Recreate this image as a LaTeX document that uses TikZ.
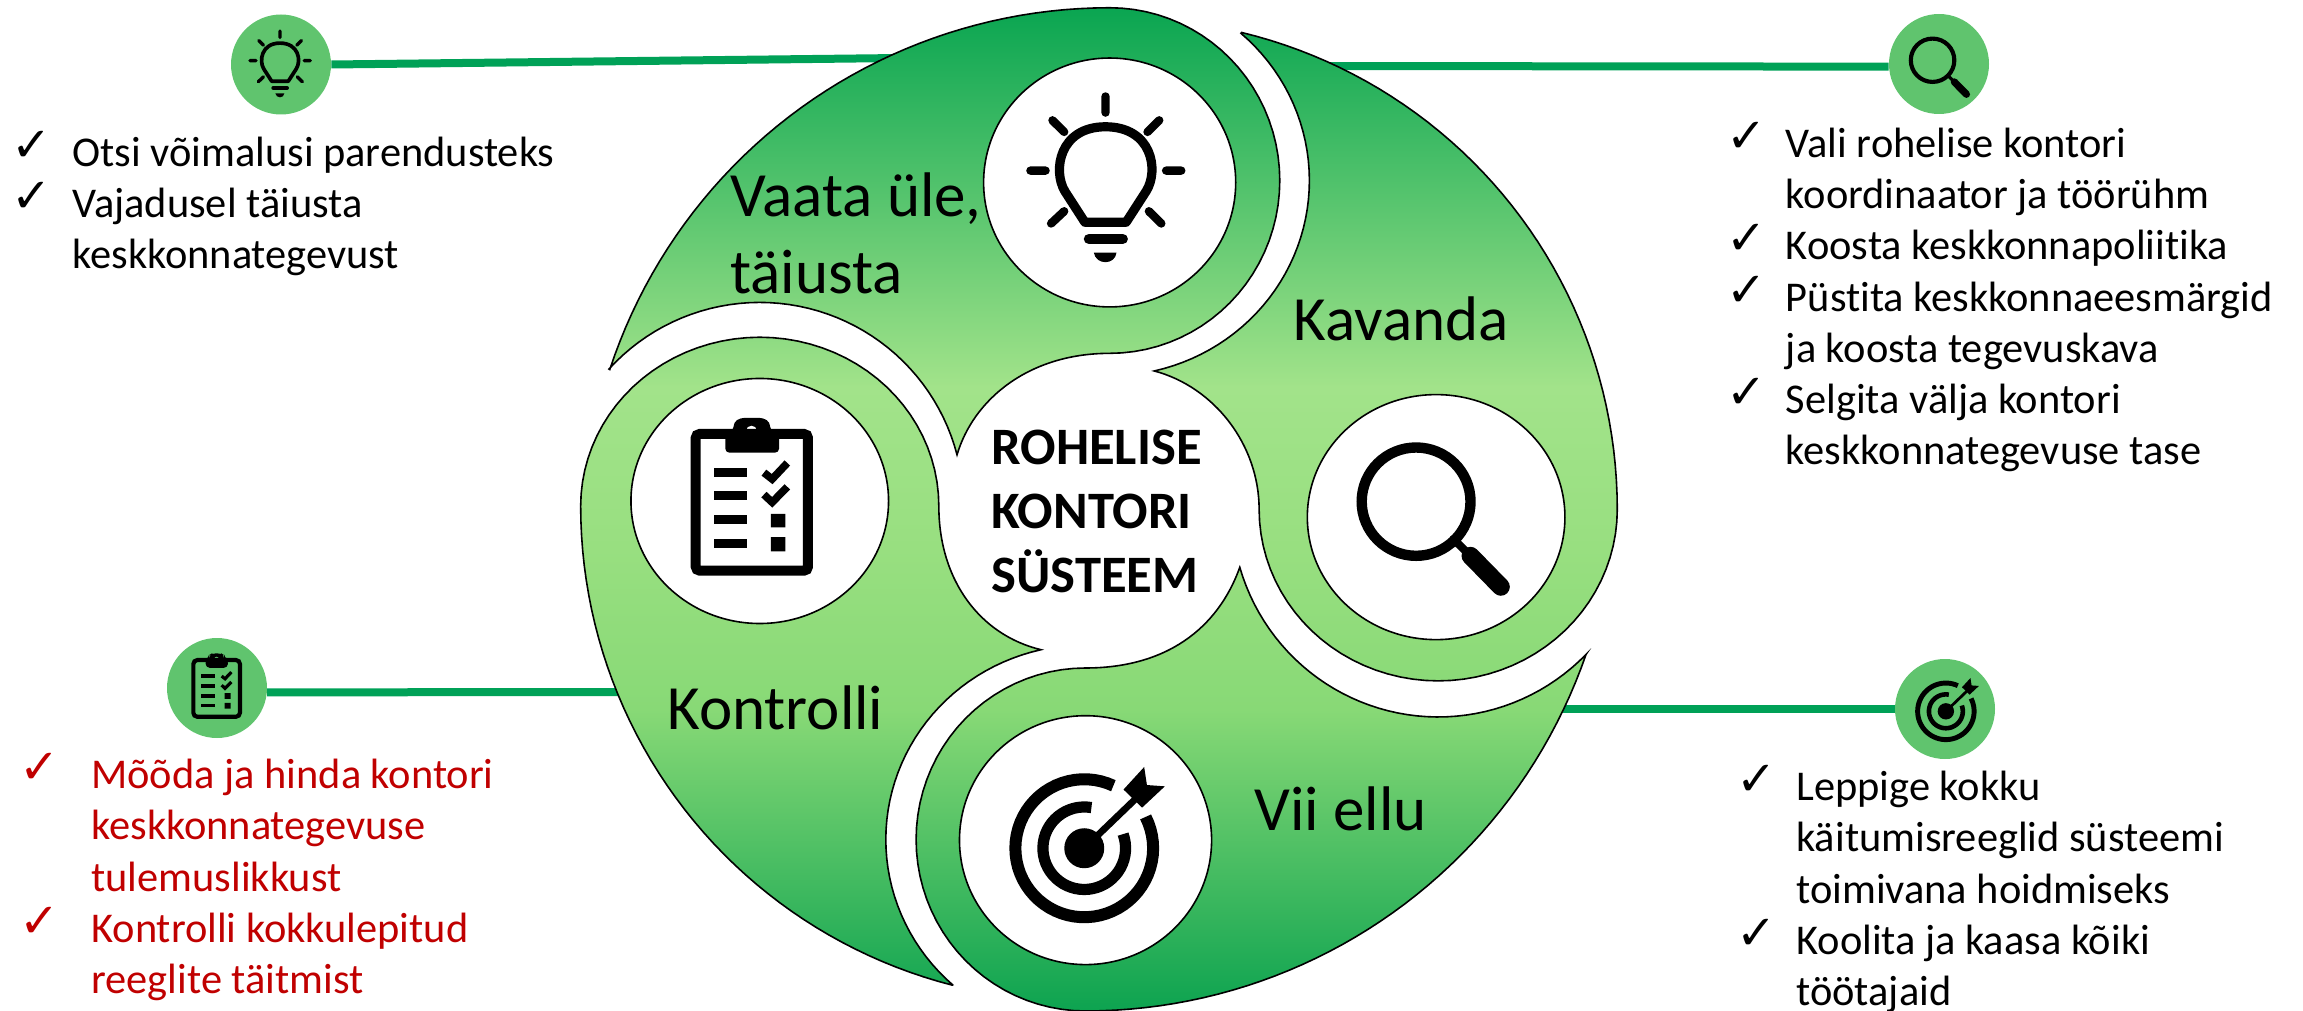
\documentclass[tikz,border=0pt]{standalone}
\usepackage{fontspec}
\setmainfont{Carlito}[Ligatures=CommonOff]
\newfontfamily\chkfont{DejaVu Sans}
\definecolor{gdark}{HTML}{07A450}
\definecolor{glight}{HTML}{A2E38A}
\definecolor{gmid}{HTML}{98DF80}
\definecolor{glow}{HTML}{88D976}
\definecolor{gbot}{HTML}{0DA350}
\definecolor{linkgreen}{HTML}{00A157}
\definecolor{badge}{HTML}{60C46E}
\definecolor{redtext}{HTML}{C00000}
\tikzset{
  zoomframe/.style={x=0.344388pt,y=-0.322385pt},
  badgenode/.style={circle,fill=badge,minimum size=50pt,inner sep=0pt},
  link/.style={draw=linkgreen,line width=4pt},
  hub/.style={draw=black,fill=white,line width=0.8pt},
  blade/.style={draw=black,line width=0.8pt,line join=miter},
  chkmark/.style={anchor=base west,inner sep=0pt,font=\chkfont\fontsize{24}{24}\selectfont},
  itemtext/.style={anchor=north west,inner sep=0pt,align=left,font=\fontsize{21.2}{25.7}\selectfont},
  bladelabel/.style={anchor=north west,inner sep=0pt,align=left,font=\fontsize{31.5}{38.5}\selectfont},
  centerlabel/.style={anchor=north west,inner sep=0pt,align=left,font=\bfseries\fontsize{26.3}{32}\selectfont},
}
\newcommand{\st}{\rule{0pt}{16pt}}
\newcommand{\stb}{\rule{0pt}{22pt}}
\newcommand{\listitem}[6]{%
  \node[chkmark,text=#5] (#1c) at (#2-3,#3-4.5) {✓};
  \node[itemtext,text=#5] (#1) at (#4,#3-32) {\st #6};}
% elliptical piece: cx, cy, rx, ry, from angle, to angle (angles run clockwise on the page)
\def\piece#1#2#3#4#5#6{plot[domain=#5:#6,samples=45] ({#1+#3*cos(\noexpand\x)},{#2+#4*sin(\noexpand\x)})}
\edef\bladeA{\piece{798}{280}{247}{268}{90}{-90} -- \piece{798}{828}{764}{816}{-90}{-161.8} -- \piece{290}{785}{296}{316}{-137.7}{-14.6} .. controls (600,620) and (680,548) .. (798,548) -- cycle}
\edef\bladeB{\piece{1275}{790}{260}{266}{180}{0} -- \piece{822}{790}{713}{761}{0}{-76.4} -- \piece{798}{280}{290}{303}{-48.9}{77.1} .. controls (950,600) and (1015,690) .. (1015,790) -- cycle}
\edef\bladeC{\piece{763}{1302}{246}{266}{-90}{-270} -- \piece{763}{746}{769}{822}{90}{19.1} -- \piece{1275}{790}{300}{322}{44.3}{163.8} .. controls (955,975) and (880,1036) .. (763,1036) -- cycle}
\edef\bladeD{\piece{290}{785}{260}{262}{0}{-180} -- \piece{748}{785}{718}{767}{180}{104.4} -- \piece{763}{1302}{290}{302}{131.7}{257.1} .. controls (610,985) and (550,900) .. (550,785) -- cycle}
\newcommand{\gradfill}[1]{%
  \begin{scope}
    \clip #1;
    \shade[top color=gdark,bottom color=glight] (0,0) rectangle (1568,601);
    \shade[top color=glight,bottom color=gmid] (0,600) rectangle (1568,851);
    \shade[top color=gmid,bottom color=glow] (0,850) rectangle (1568,1101);
    \shade[top color=glow,bottom color=gbot] (0,1100) rectangle (1568,1568);
  \end{scope}
  \draw[blade] #1;}
\newcommand{\bulbicon}[3]{%
  \begin{scope}[shift={(#1,#2)},zoomframe,scale=#3,shift={(-792,-278)},line cap=round,line join=round]
    \draw[line width=#3*4.2pt] (792,150)--(792,175) (715,187)--(732,205) (870,187)--(853,205)
      (683,265)--(705,265) (880,265)--(902,265) (713,347)--(732,328) (873,347)--(855,328);
    \draw[line width=#3*4.6pt] (762,345) -- (733,297) .. controls (715,265) and (725,197) .. (792,197)
      .. controls (860,197) and (870,265) .. (851,297) -- (822,345) -- cycle;
    \draw[line width=#3*5.2pt] (768,371)--(817,371);
    \fill (775,392)--(808,392) .. controls (806,412) and (778,412) .. cycle;
  \end{scope}}
\newcommand{\clipicon}[3]{%
  \begin{scope}[shift={(#1,#2)},zoomframe,scale=#3,shift={(-278,-770)}]
    \draw[line width=#3*5pt,rounded corners=2pt] (197,673) rectangle (360,885);
    \fill[even odd rule,rounded corners=2pt] (240,702)--(240,668)--(252,668)--(252,655)--(262,648)--(295,648)--(305,655)--(305,668)--(318,668)--(318,702)--cycle (278,668) circle [radius=8];
    \draw[line width=#3*4.6pt] (224,733)--(272,733) (224,769)--(272,769) (224,806)--(272,806) (224,843)--(272,843);
    \draw[line width=#3*3.8pt] (296,733)--(308,743)--(330,718) (296,767)--(308,779)--(330,755);
    \fill (306,797) rectangle (327,818) (306,833) rectangle (327,855);
  \end{scope}}
\newcommand{\lensicon}[3]{%
  \begin{scope}[shift={(#1,#2)},zoomframe,scale=#3,shift={(-1270,-808)},line cap=round]
    \draw[line width=#3*5.2pt] (1243,778) ellipse [x radius=79,y radius=84];
    \draw[line width=#3*4pt] (1297,836)--(1322,862);
    \draw[line width=#3*9pt] (1322,862)--(1366,910);
  \end{scope}}
\newcommand{\targeticon}[3]{%
  \begin{scope}[shift={(#1,#2)},zoomframe,scale=#3,shift={(-765,-1311)}]
    \draw[line width=#3*6pt] plot[domain=-27:295,samples=60] ({761+100*cos(\x)},{1316+107*sin(\x)});
    \draw[line width=#3*5.6pt] plot[domain=-20:280,samples=50] ({761+60*cos(\x)},{1316+64*sin(\x)});
    \fill (761,1316) ellipse [x radius=29,y radius=31];
    \draw[line width=#3*3.4pt] (761,1316)--(835,1240);
    \fill (848,1190)--(818,1225)--(845,1253)--(878,1220)--(852,1218)--cycle;
  \end{scope}}
\begin{document}
\begin{tikzpicture}[x=0.5pt,y=-0.5pt]
\useasboundingbox (0,0) rectangle (2303,1011);
\node[badgenode] (ideaBadge) at (281,64.5) {};
\node[badgenode] (planBadge) at (1939,64) {};
\node[badgenode] (checkBadge) at (217,688) {};
\node[badgenode] (aimBadge) at (1945,709) {};
\coordinate (ideaEnd) at (900,58);
\coordinate (planEnd) at (1300,66);
\coordinate (checkEnd) at (640,692);
\coordinate (aimEnd) at (1540,709);
\draw[link] (ideaBadge.east) -- (ideaEnd);
\draw[link] (planBadge.183) -- (planEnd);
\draw[link] (checkBadge.-5) -- (checkEnd);
\draw[link] (aimBadge.180) -- (aimEnd);
\bulbicon{280}{64}{0.4}
\clipicon{216.5}{686}{0.415}
\lensicon{1940}{68}{0.4}
\targeticon{1947}{710}{0.41}
\begin{scope}[shift={(560,0)},zoomframe]
  \gradfill{\bladeA}
  \gradfill{\bladeB}
  \gradfill{\bladeC}
  \gradfill{\bladeD}
  \draw[hub] (798,283) ellipse [x radius=183,y radius=193];
  \draw[hub] (290,777) ellipse [x radius=187,y radius=190];
  \draw[hub] (1272,802) ellipse [x radius=187,y radius=190];
  \draw[hub] (763,1303) ellipse [x radius=183,y radius=193];
\end{scope}
\bulbicon{1105.5}{179}{1}
\clipicon{751.5}{496.5}{1}
\lensicon{1434.7}{521}{1}
\targeticon{1087}{845}{1}
\node[bladelabel] (lblReview) at (730,216-44) {\stb Vaata üle,\\täiusta};
\node[bladelabel] (lblPlan) at (1293.5,340-44) {\stb Kavanda};
\node[bladelabel] (lblCheck) at (667,728.6-44) {\stb Kontrolli};
\node[bladelabel] (lblDo) at (1254,830-44) {\stb Vii ellu};
\node[centerlabel] (lblCenter) at (991,464-44) {\stb ROHELISE\\KONTORI\\SÜSTEEM};
\listitem{a}{14.5}{166}{72}{black}{Otsi võimalusi parendusteks}
\listitem{b}{14.5}{217}{72}{black}{Vajadusel täiusta\\keskkonnategevust}
\listitem{c}{1729}{157}{1785.5}{black}{Vali rohelise kontori\\koordinaator ja töörühm}
\listitem{d}{1729}{259}{1785.5}{black}{Koosta keskkonnapoliitika}
\listitem{e}{1729}{311}{1785.5}{black}{Püstita keskkonnaeesmärgid\\ja koosta tegevuskava}
\listitem{f}{1729}{413}{1785.5}{black}{Selgita välja kontori\\keskkonnategevuse tase}
\listitem{g}{22}{788}{91}{redtext}{Mõõda ja hinda kontori\\keskkonnategevuse\\tulemuslikkust}
\listitem{h}{22}{942}{91}{redtext}{Kontrolli kokkulepitud\\reeglite täitmist}
\listitem{i}{1739}{800}{1796}{black}{Leppige kokku\\käitumisreeglid süsteemi\\toimivana hoidmiseks}
\listitem{j}{1739}{954}{1796}{black}{Koolita ja kaasa kõiki\\töötajaid}
\end{tikzpicture}
\end{document}
